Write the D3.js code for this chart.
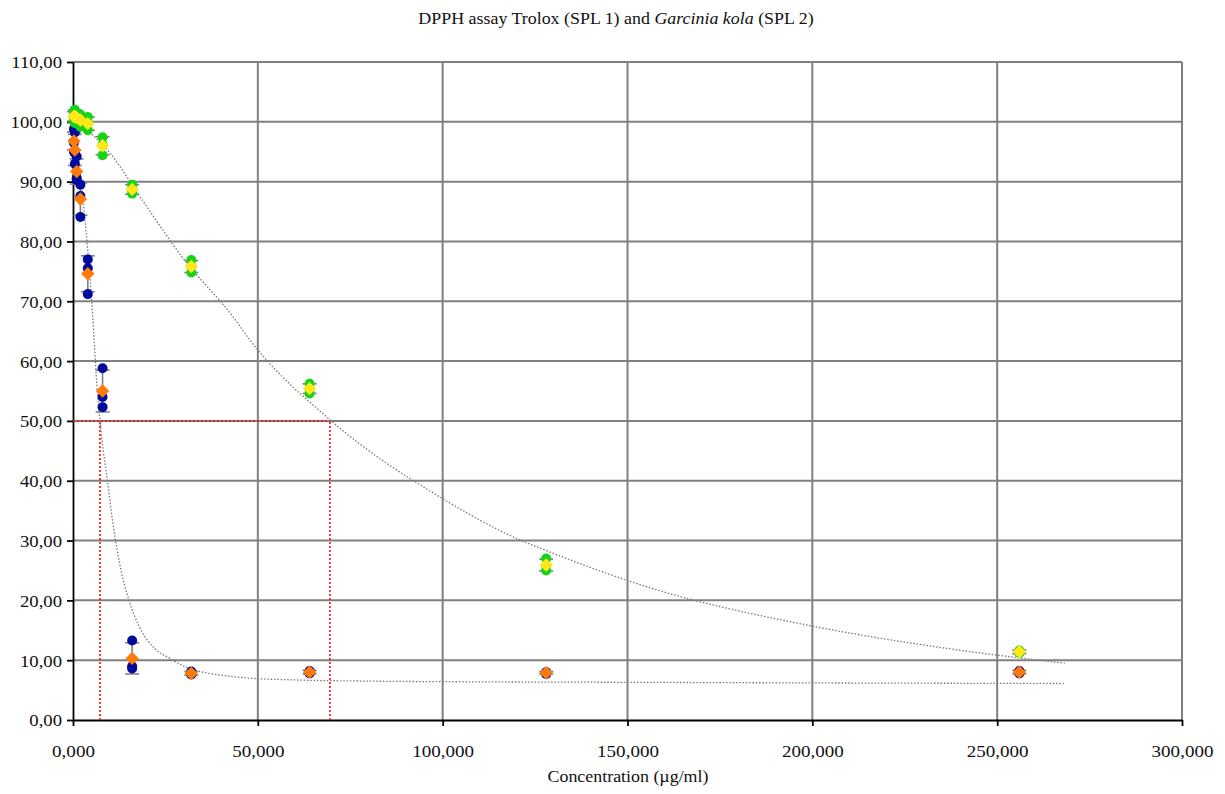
<!DOCTYPE html>
<html>
<head>
<meta charset="utf-8">
<script src="https://cdn.jsdelivr.net/npm/d3@7"></script>
<style>
  body { margin: 0; background: #fff; }
</style>
</head>
<body>
<svg width="1225" height="794"></svg>
<script>
// concentrations (µg/ml)
var conc = [250, 500, 1000, 2000, 4000, 8000, 16000, 32000, 64000, 128000, 256000];

// Trolox (SPL 1): replicates, mean, sd
var trolox1 = [98.8, 98.2, 94.2, 89.5, 77.0, 58.8, 13.3, 8.1, 8.2, 8.0, 8.2];
var trolox2 = [96.5, 94.8, 90.6, 87.6, 75.5, 54.0, 9.0, 7.8, 8.0, 7.9, 8.1];
var trolox3 = [95.0, 93.0, 90.3, 84.1, 71.2, 52.3, 8.6, 7.6, 7.8, 7.7, 7.8];
var troloxMean = [96.8, 95.3, 91.7, 87.1, 74.6, 55.0, 10.3, 7.8, 8.0, 7.9, 8.0];
var troloxSd = [1.5, 2.6, 2.1, 2.7, 3.0, 3.5, 2.6, 0.3, 0.3, 0.2, 0.3];

// Garcinia kola (SPL 2)
var kola1 = [101.8, 102.0, 101.5, 101.2, 100.8, 97.4, 89.5, 76.9, 56.2, 27.0, 11.6];
var kola2 = [100.9, 101.0, 100.6, 100.4, 99.8, 96.2, 88.6, 75.8, 55.3, 25.8, 11.3];
var kola3 = [100.2, 99.8, 99.9, 99.2, 98.6, 94.4, 88.0, 74.8, 54.6, 25.0, 11.2];
var kolaMean = [100.9, 100.9, 100.7, 100.3, 99.7, 96.0, 88.7, 75.8, 55.4, 25.9, 11.4];
var kolaSd = [0.8, 1.1, 0.8, 1.0, 1.1, 1.5, 0.8, 1.0, 0.8, 1.0, 0.3];

// fitted curves [x, y]
var troloxFit = [[0,100],[1000,96],[2000,91],[3000,85],[4000,78.5],[4600,74],[5500,66],
  [6400,56.5],[7300,50],[8200,45],[9200,40.5],[11000,32],[13000,25],[14900,20.5],
  [18000,15.5],[22000,12],[26200,10.3],[30000,9],[34400,8.1],[40000,7.5],[47900,7.0],
  [60000,6.7],[80000,6.5],[102000,6.4],[150000,6.3],[200000,6.2],[268000,6.1]];
var kolaFit = [[0,101],[3800,98.7],[10000,94.8],[18100,87.5],[30000,77],[43300,67.4],
  [47900,63.5],[69500,50.2],[100000,37],[120900,30.1],[127700,28.4],[156100,22.1],
  [200000,15.7],[237200,11.9],[268300,9.5]];

// IC50 guides
var ic50 = [7300, 69500];

var xTicks = [0, 50000, 100000, 150000, 200000, 250000, 300000];
var yTicks = [0, 10, 20, 30, 40, 50, 60, 70, 80, 90, 100, 110];

var FONT = "Liberation Serif";

var svg = d3.select("svg");

var x = d3.scaleLinear().domain([0, 300000]).range([73, 1182]);
var y = d3.scaleLinear().domain([0, 110]).range([720, 62]);

var comma = function(v, n) { return v.toFixed(n).replace(".", ","); };

// grid
svg.append("g")
  .selectAll("line.h")
  .data(yTicks.slice(1))
  .enter().append("line")
    .attr("x1", x(0)).attr("x2", x(300000))
    .attr("y1", function(d) { return y(d); })
    .attr("y2", function(d) { return y(d); })
    .attr("stroke", "#808080").attr("stroke-width", 2);

svg.append("g")
  .selectAll("line.v")
  .data(xTicks.slice(1))
  .enter().append("line")
    .attr("x1", function(d) { return x(d); })
    .attr("x2", function(d) { return x(d); })
    .attr("y1", y(0)).attr("y2", y(110))
    .attr("stroke", "#808080").attr("stroke-width", 2);

// axes
var xAxis = svg.append("g")
    .attr("transform", "translate(0," + y(0) + ")")
    .call(d3.axisBottom(x).tickValues(xTicks).tickSize(6).tickSizeOuter(0)
      .tickFormat(function(d) { return comma(d / 1000, 3); }));
xAxis.attr("font-family", FONT).attr("font-size", 17);
xAxis.select(".domain").attr("stroke", "#000").attr("stroke-width", 1.8);
xAxis.selectAll(".tick line").attr("stroke", "#000").attr("stroke-width", 1.8);
xAxis.selectAll(".tick text")
    .attr("dy", 0).attr("y", 37)
    .attr("fill", "#111")
    .attr("font-family", FONT)
    .attr("transform", "scale(1.12,1)");

var yAxis = svg.append("g")
    .attr("transform", "translate(" + x(0) + ",0)")
    .call(d3.axisLeft(y).tickValues(yTicks).tickSize(6).tickSizeOuter(0)
      .tickFormat(function(d) { return comma(d, 2); }));
yAxis.attr("font-family", FONT).attr("font-size", 17);
yAxis.select(".domain").attr("stroke", "#000").attr("stroke-width", 1.8);
yAxis.selectAll(".tick line").attr("stroke", "#000").attr("stroke-width", 1.8);
yAxis.selectAll(".tick text")
    .attr("x", -10).attr("dy", "0.35em")
    .attr("fill", "#111")
    .attr("font-family", FONT)
    .attr("transform", "scale(1.1,1)");

// red IC50 guides
svg.append("line")
    .attr("x1", x(0)).attr("x2", x(ic50[1]))
    .attr("y1", y(50)).attr("y2", y(50))
    .attr("stroke", "#ee1111").attr("stroke-width", 1.6).attr("stroke-dasharray", "2,2");
svg.append("g").selectAll("line")
  .data(ic50)
  .enter().append("line")
    .attr("x1", function(d) { return x(d); })
    .attr("x2", function(d) { return x(d); })
    .attr("y1", y(0)).attr("y2", y(50))
    .attr("stroke", "#ee1111").attr("stroke-width", 1.6).attr("stroke-dasharray", "2,2");

// fit curves
var line = d3.line()
    .x(function(d) { return x(d[0]); })
    .y(function(d) { return y(d[1]); })
    .curve(d3.curveMonotoneX);

[troloxFit, kolaFit].forEach(function(pts) {
  svg.append("path")
      .attr("d", line(pts))
      .attr("fill", "none")
      .attr("stroke", "#777")
      .attr("stroke-width", 1.3)
      .attr("stroke-dasharray", "1.5,1.8");
});

function drawSeries(reps, mean, sd, dotColor, meanColor) {
  var g = svg.append("g");
  var bars = conc.map(function(c, i) { return { x: c, m: mean[i], s: sd[i] }; });

  g.selectAll("line.bar").data(bars).enter().append("line")
      .attr("x1", function(d) { return x(d.x); })
      .attr("x2", function(d) { return x(d.x); })
      .attr("y1", function(d) { return y(d.m - d.s); })
      .attr("y2", function(d) { return y(d.m + d.s); })
      .attr("stroke", "#808080").attr("stroke-width", 1.6);
  [-1, 1].forEach(function(k) {
    g.selectAll(null).data(bars).enter().append("line")
        .attr("x1", function(d) { return x(d.x) - 7; })
        .attr("x2", function(d) { return x(d.x) + 7; })
        .attr("y1", function(d) { return y(d.m + k * d.s); })
        .attr("y2", function(d) { return y(d.m + k * d.s); })
        .attr("stroke", "#808080").attr("stroke-width", 1.6);
  });

  reps.forEach(function(r) {
    g.selectAll(null).data(r).enter().append("circle")
        .attr("cx", function(d, i) { return x(conc[i]); })
        .attr("cy", function(d) { return y(d); })
        .attr("r", 5)
        .attr("fill", dotColor);
  });

  g.selectAll("path.mean").data(mean).enter().append("path")
      .attr("d", d3.symbol().type(d3.symbolSquare).size(90))
      .attr("transform", function(d, i) {
        return "translate(" + x(conc[i]) + "," + y(d) + ") rotate(45)";
      })
      .attr("fill", meanColor);
}

drawSeries([trolox1, trolox2, trolox3], troloxMean, troloxSd, "#000b9c", "#ff7a0a");
drawSeries([kola1, kola2, kola3], kolaMean, kolaSd, "#16d316", "#ffe81a");

// titles
var title = svg.append("text")
    .attr("transform", "translate(616,24) scale(1.12,1)")
    .attr("text-anchor", "middle")
    .attr("font-family", FONT)
    .attr("font-size", 16)
    .attr("fill", "#111");
title.append("tspan").text("DPPH assay Trolox (SPL 1) and  ");
title.append("tspan").attr("font-style", "italic").text("Garcinia kola");
title.append("tspan").text(" (SPL 2)");

svg.append("text")
    .attr("transform", "translate(628,782) scale(1.12,1)")
    .attr("text-anchor", "middle")
    .attr("font-family", FONT)
    .attr("font-size", 16)
    .attr("fill", "#111")
    .text("Concentration (µg/ml)");
</script>
</body>
</html>
